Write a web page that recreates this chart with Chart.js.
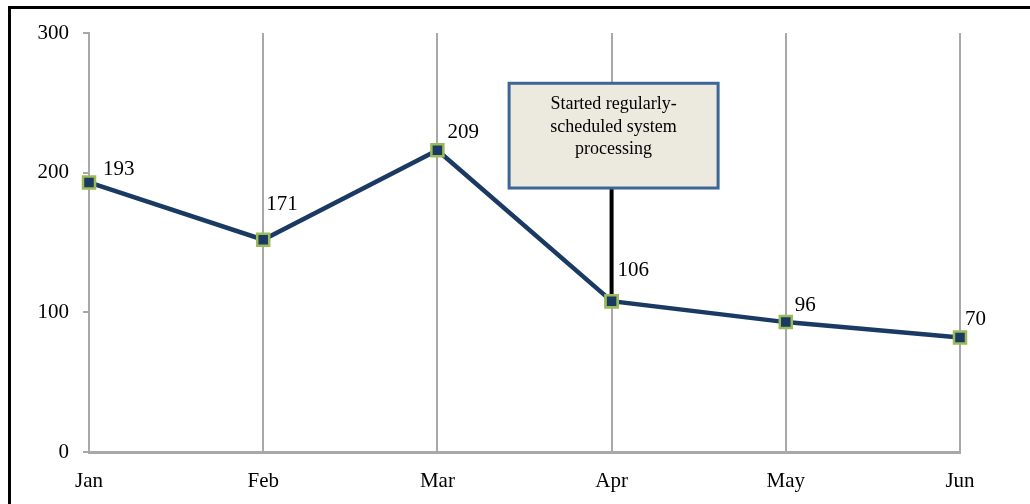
<!DOCTYPE html>
<html>
<head>
<meta charset="utf-8">
<script src="https://cdn.jsdelivr.net/npm/chart.js@4"></script>
<style>
  html, body { margin: 0; padding: 0; background: #fff; }
  #wrap { position: relative; width: 1030px; height: 504px; overflow: hidden; }
  #frame { position: absolute; left: 8px; top: 6px; width: 1100px; height: 600px; border: 3px solid #000; }
  #chart { position: absolute; left: 0; top: 0; }
</style>
</head>
<body>
<div id="wrap">
  <div id="frame"></div>
  <canvas id="chart" width="1030" height="504"></canvas>
</div>
<script>
const months = ["Jan", "Feb", "Mar", "Apr", "May", "Jun"];
// plotted positions
const values = [193, 152, 216, 108, 93, 82];
// numbers printed next to the points
const pointLabels = ["193", "171", "209", "106", "96", "70"];
const yTicks = [0, 100, 200, 300];
const noteLines = ["Started regularly-", "scheduled system", "processing"];
const noteMonth = "Apr";

const serif = "'Liberation Serif', 'Times New Roman', serif";
const labelOffsets = [[14, -13], [3, -35], [10, -18], [6, -31], [9, -17], [5, -18]];

const overlay = {
  id: "overlay",
  afterDatasetsDraw(chart) {
    const c = chart.ctx;
    const xs = chart.scales.x, ys = chart.scales.y;
    const i = months.indexOf(noteMonth);
    const px = xs.getPixelForValue(i);
    const py = ys.getPixelForValue(values[i]);
    const top = ys.getPixelForValue(264), bottom = ys.getPixelForValue(189);
    const w = 209, left = px + 2 - w / 2;

    // connector
    c.save();
    c.strokeStyle = "#000";
    c.lineWidth = 4;
    c.beginPath();
    c.moveTo(px, bottom);
    c.lineTo(px, py - 6);
    c.stroke();

    // note box
    c.fillStyle = "#ECEADF";
    c.fillRect(left, top, w, bottom - top);
    c.strokeStyle = "#3E6597";
    c.lineWidth = 3;
    c.strokeRect(left, top, w, bottom - top);
    c.fillStyle = "#000";
    c.font = "18px " + serif;
    c.textAlign = "center";
    c.textBaseline = "middle";
    noteLines.forEach((t, k) => c.fillText(t, left + w / 2, top + 21 + k * 22.5));

    // point labels
    c.font = "21px " + serif;
    c.textAlign = "left";
    chart.getDatasetMeta(0).data.forEach((p, k) => {
      c.fillText(pointLabels[k], p.x + labelOffsets[k][0], p.y + labelOffsets[k][1]);
    });
    c.restore();

    // redraw the Apr marker above the connector
    chart.getDatasetMeta(0).data[i].draw(c);
  }
};

new Chart(document.getElementById("chart"), {
  type: "line",
  data: {
    labels: months,
    datasets: [{
      data: values,
      borderColor: "#1B3A63",
      borderWidth: 4.5,
      tension: 0,
      pointStyle: "rect",
      pointRadius: 8.5,
      pointBorderWidth: 2.5,
      pointBackgroundColor: "#1B3A63",
      pointBorderColor: "#9BBB59",
      clip: false
    }]
  },
  options: {
    responsive: false,
    animation: false,
    layout: { padding: { top: 33, right: 70, bottom: 0, left: 0 } },
    plugins: { legend: { display: false }, tooltip: { enabled: false } },
    scales: {
      x: {
        offset: false,
        grid: { color: "#A8A8AA", lineWidth: 2, drawTicks: false },
        border: { color: "#A8A8AA", width: 3 },
        ticks: { color: "#000", font: { family: serif, size: 21 }, padding: 17, maxRotation: 0 },
        afterFit(s) { s.height = 52; }
      },
      y: {
        min: 0,
        max: 300,
        afterBuildTicks(s) { s.ticks = yTicks.map(v => ({ value: v })); },
        grid: { drawOnChartArea: false, color: "#A8A8AA", lineWidth: 2, tickLength: 6 },
        border: { color: "#A8A8AA", width: 2 },
        ticks: { color: "#000", font: { family: serif, size: 21 }, padding: 14 },
        afterFit(s) { s.width = 89; }
      }
    }
  },
  plugins: [overlay]
});
</script>
</body>
</html>
